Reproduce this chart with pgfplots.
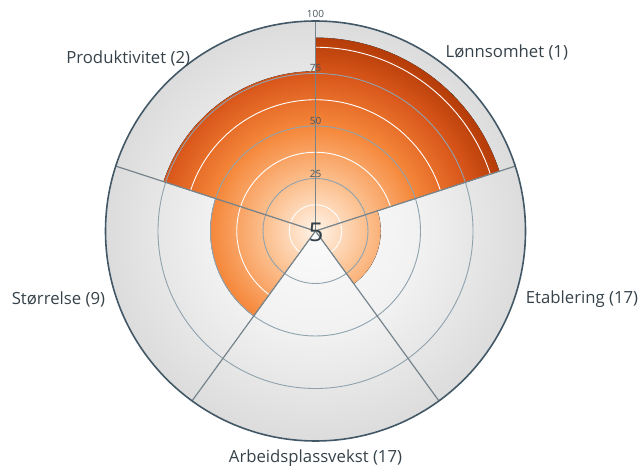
\documentclass[border=0pt]{standalone}
\usepackage{pgfplots}
\pgfplotsset{compat=1.18}
\usepackage{pgfplotstable}
\usepackage{fontspec}
\setmainfont{Open Sans}

\definecolor{labelc}{HTML}{36424A}
\definecolor{tickc}{HTML}{4A555C}
\definecolor{gridc}{HTML}{8FA2AE}
\definecolor{spokec}{HTML}{76848C}
\definecolor{rimc}{HTML}{435866}
\definecolor{bA}{HTML}{FFF4E8}
\definecolor{bB}{HTML}{FCBE8C}
\definecolor{bC}{HTML}{F5873A}
\definecolor{bD}{HTML}{D9561A}
\definecolor{bE}{HTML}{A33000}
\definecolor{gA}{HTML}{FBFBFB}
\definecolor{gB}{HTML}{F1F1F1}
\definecolor{gC}{HTML}{DCDCDC}

\pgfdeclareradialshading{barshade}{\pgfpoint{0bp}{0bp}}{%
  color(0bp)=(bA); color(6.25bp)=(bB); color(12.5bp)=(bC); color(18.75bp)=(bD); color(25bp)=(bE); color(50bp)=(bE)}
\pgfdeclareradialshading{bgshade}{\pgfpoint{0bp}{0bp}}{%
  color(0bp)=(gA); color(12.5bp)=(gB); color(25bp)=(gC); color(50bp)=(gC)}

% a0 a1 = angular extent of the sector (degrees), val = value (0-100)
\pgfplotstableread{
a0   a1   val
18   90   92
-54  18   31
-126 -54  0
162  234  50
90   162  76
}\bars

\begin{document}
\begin{tikzpicture}
\useasboundingbox (0,0) rectangle (640bp,468bp);
\begin{scope}[shift={(315.5bp,237bp)}]
  \shade[shading=bgshade] (0,0) circle[radius=210bp];
\end{scope}
\begin{axis}[
  at={(315.5bp,237bp)}, anchor=origin,
  x=2.1bp, y=2.1bp,
  xmin=-100, xmax=100, ymin=-100, ymax=100,
  hide axis, clip=false,
]
\addplot[scatter, only marks, mark=*, mark size=0pt,
  point meta=\thisrow{val},
  visualization depends on={\thisrow{a0}\as\aA},
  visualization depends on={\thisrow{a1}\as\aB},
  visualization depends on={\thisrow{val}\as\val},
  scatter/@pre marker code/.code={%
    \pgfmathsetlengthmacro\rr{\val*2.1bp}%
    \ifdim\rr>0.1pt
    \scope
      \clip (0pt,0pt) -- (\aA:\rr) arc[start angle=\aA, end angle=\aB, radius=\rr] -- cycle;
      \shade[shading=barshade] (0pt,0pt) circle[radius=210bp];
      \foreach \w in {26.25bp,78.75bp,131.25bp,183.75bp}
        {\draw[white, line width=0.9pt] (0pt,0pt) circle[radius=\w];}
    \endscope
    \fi
  },
  scatter/@post marker code/.code={},
] table[x expr=0, y expr=0] {\bars};
\end{axis}
\begin{scope}[shift={(315.5bp,237bp)}]
  \foreach \r in {52.5bp,105bp,157.5bp}
    {\draw[gridc, line width=0.9pt] (0,0) circle[radius=\r];}
  \foreach \a in {18,90,162,234,306}
    {\draw[spokec, line width=1.2pt] (0,0) -- (\a:210bp);}
  \draw[rimc, line width=1.6pt] (0,0) circle[radius=210bp];
  \begin{scope}[every node/.style={font=\fontsize{10}{11}\selectfont, text=tickc, inner sep=0pt}]
    \node at (0,217bp) {100};
    \node at (0,163.5bp) {75};
    \node at (0,110.5bp) {50};
    \node at (0,57bp) {25};
  \end{scope}
  \node[font=\fontsize{26}{28}\selectfont, text=labelc, inner sep=0pt] at (0.5bp,-1bp) {5};
  \begin{scope}[every node/.style={font=\fontsize{16.8}{18}\selectfont, text=labelc, inner sep=0pt}]
    \node[anchor=west] at (54:221bp) {Lønnsomhet (1)};
    \node[anchor=west] at (-18:221bp) {Etablering (17)};
    \node[anchor=north] at (-90:219bp) {Arbeidsplassvekst (17)};
    \node[anchor=east] at (198:221bp) {Størrelse (9)};
    \node[anchor=east] at (126:213bp) {Produktivitet (2)};
  \end{scope}
\end{scope}
\end{tikzpicture}
\end{document}
